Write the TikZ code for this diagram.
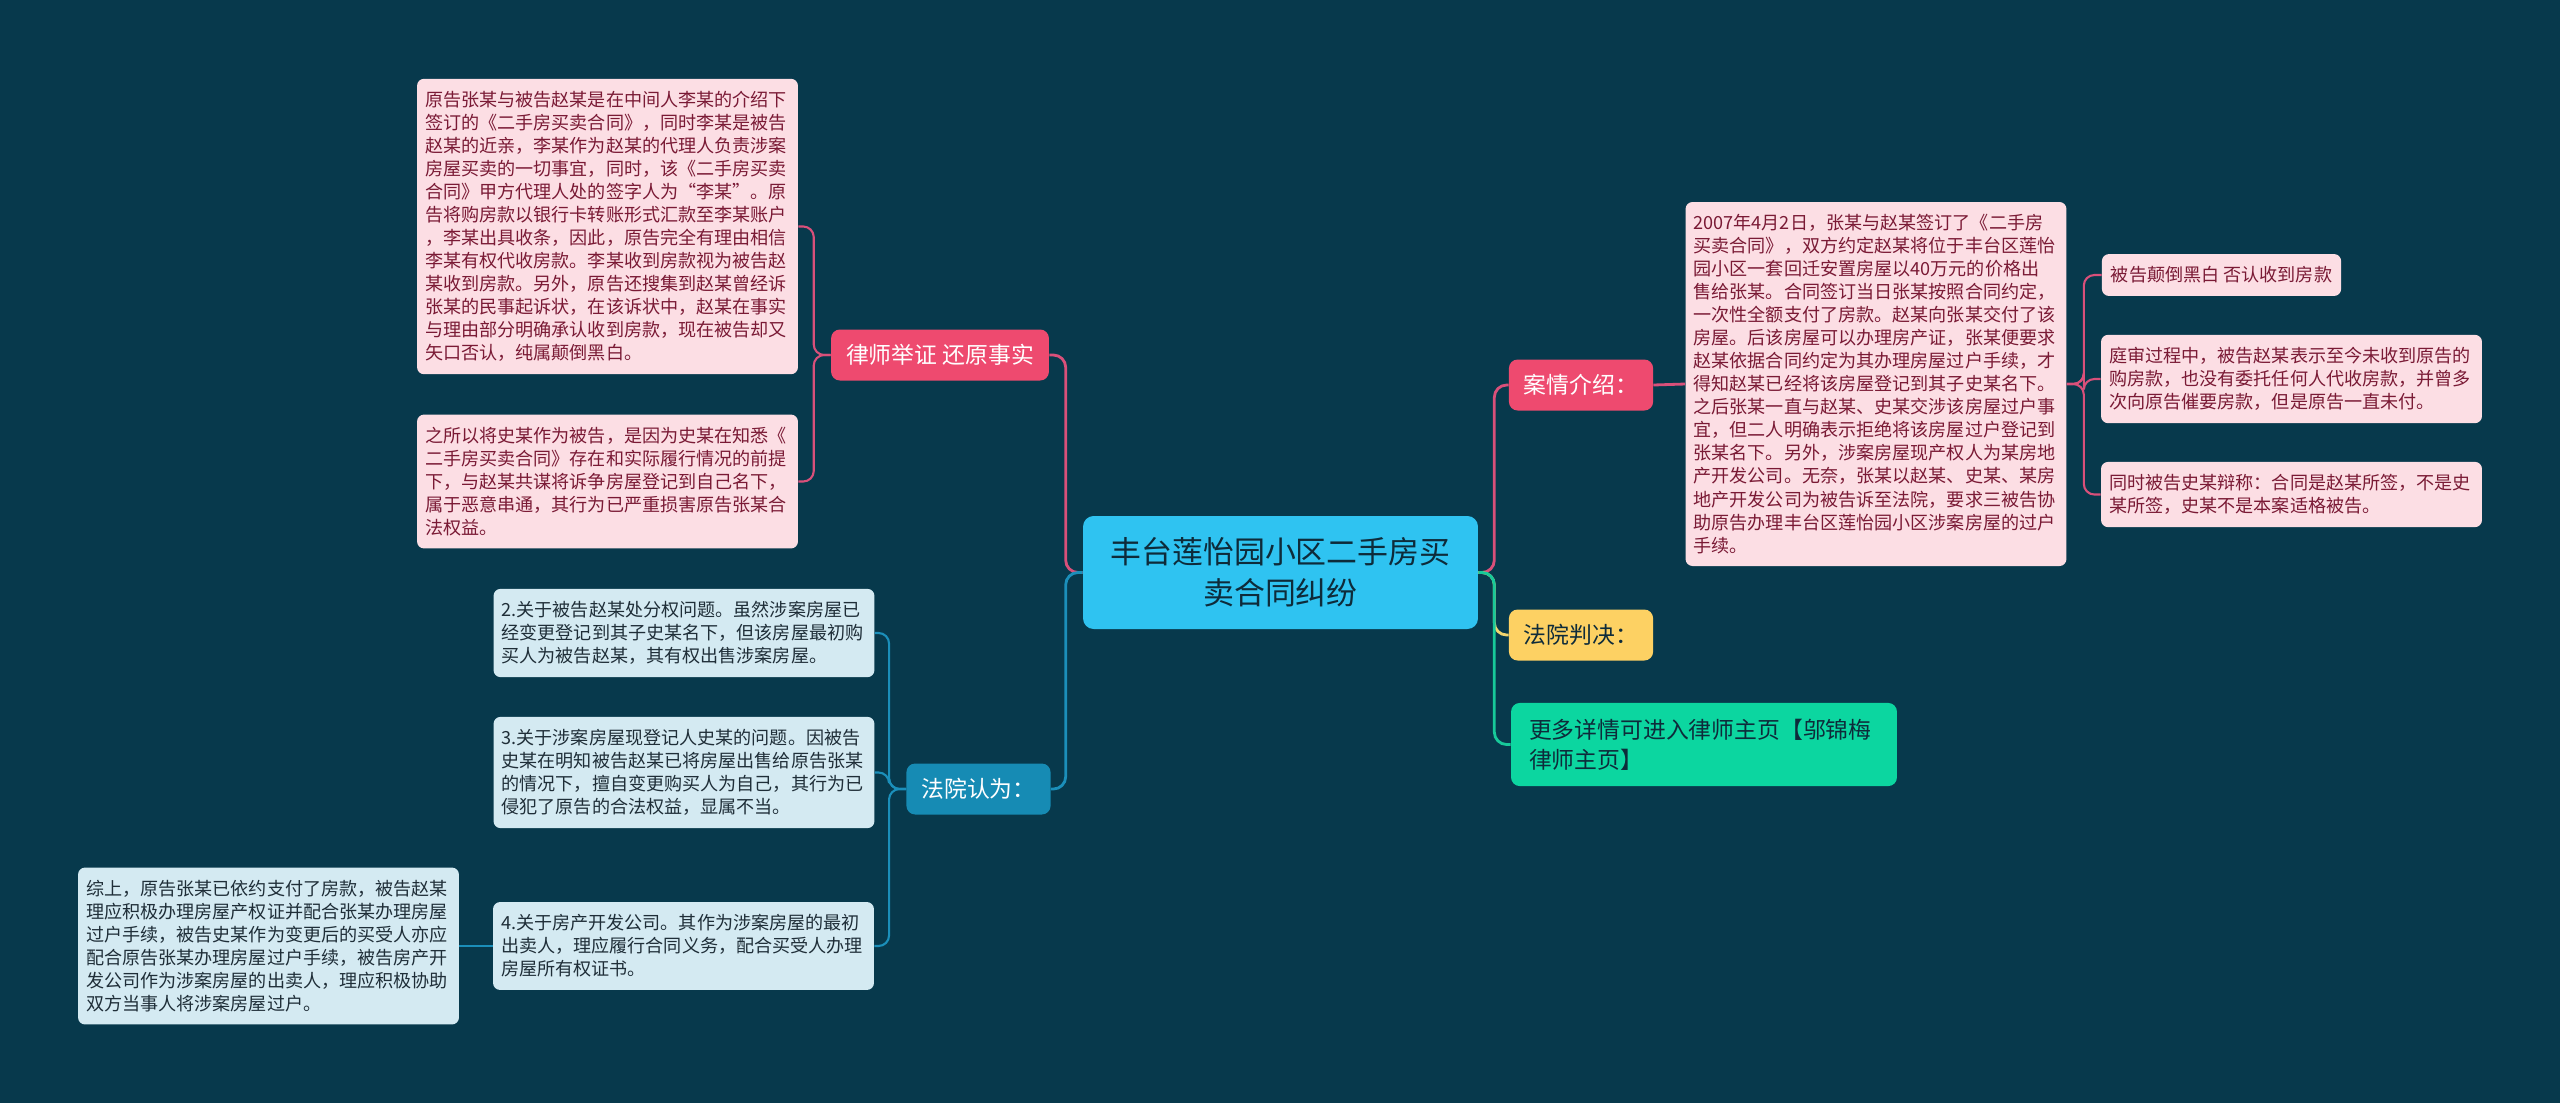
\documentclass[tikz,border=0pt]{standalone}
\usepackage{fontspec}
\setmainfont{Noto Sans CJK SC}
\usepackage{tikz}

\definecolor{bg}{HTML}{07394C}
\definecolor{rootfill}{HTML}{2FC3F1}
\definecolor{roottext}{HTML}{0E2B3A}
\definecolor{pinkfill}{HTML}{EE4A6F}
\definecolor{pinkline}{HTML}{D9507A}
\definecolor{pinkleaf}{HTML}{FCDEE4}
\definecolor{pinktext}{HTML}{7A1A35}
\definecolor{bluefill}{HTML}{168BB4}
\definecolor{blueline}{HTML}{1B8FBA}
\definecolor{blueleaf}{HTML}{D4EAF2}
\definecolor{bluetext}{HTML}{1F2E38}
\definecolor{yelfill}{HTML}{FDD163}
\definecolor{yelline}{HTML}{F2D56E}
\definecolor{greenfill}{HTML}{0CD6A0}
\definecolor{greenline}{HTML}{17C99A}

\begin{document}
\begin{tikzpicture}[x=0.02cm,y=-0.02cm,
  leaf/.style={rounded corners=4pt,align=left,inner xsep=0.16cm,inner ysep=0.25cm,font=\fontsize{10.3pt}{13.1pt}\selectfont},
  pleaf/.style={leaf,fill=pinkleaf,text=pinktext},
  bleaf/.style={leaf,fill=blueleaf,text=bluetext},
  branch/.style={rounded corners=5pt,inner xsep=0.3cm,minimum height=1.02cm,font=\fontsize{13pt}{17pt}\selectfont},
  pline/.style={draw=pinkline,line width=1.6pt,rounded corners=7pt},
  bline/.style={draw=blueline,line width=1.6pt,rounded corners=7pt},
  pthin/.style={draw=pinkline,line width=1.2pt,rounded corners=6pt},
  bthin/.style={draw=blueline,line width=1.2pt,rounded corners=6pt}]

\fill[bg] (0,0) rectangle (2560,1103);

% centre
\node[fill=rootfill,text=roottext,rounded corners=6pt,minimum width=7.9cm,minimum height=2.26cm,align=center,font=\fontsize{17.6pt}{23.4pt}\selectfont] (root) at (1280.5,572.5) {丰台莲怡园小区二手房买\\卖合同纠纷};

% left side
\node[branch,fill=pinkfill,text=white] (proof) at (940,355) {律师举证 还原事实};
\node[pleaf,text width=7.3cm] (ev1) at (607.5,226.5) {原告张某与被告赵某是在中间人李某的介绍下\\签订的《二手房买卖合同》，同时李某是被告\\赵某的近亲，李某作为赵某的代理人负责涉案\\房屋买卖的一切事宜，同时，该《二手房买卖\\合同》甲方代理人处的签字人为“李某”。原\\告将购房款以银行卡转账形式汇款至李某账户\\，李某出具收条，因此，原告完全有理由相信\\李某有权代收房款。李某收到房款视为被告赵\\某收到房款。另外，原告还搜集到赵某曾经诉\\张某的民事起诉状，在该诉状中，赵某在事实\\与理由部分明确承认收到房款，现在被告却又\\矢口否认，纯属颠倒黑白。};
\node[pleaf,text width=7.3cm] (ev2) at (607.5,481.5) {之所以将史某作为被告，是因为史某在知悉《\\二手房买卖合同》存在和实际履行情况的前提\\下，与赵某共谋将诉争房屋登记到自己名下，\\属于恶意串通，其行为已严重损害原告张某合\\法权益。};

\node[branch,fill=bluefill,text=white] (court) at (978.5,789) {法院认为：};
\node[bleaf,text width=7.3cm] (p2) at (684,633) {2.关于被告赵某处分权问题。虽然涉案房屋已\\经变更登记到其子史某名下，但该房屋最初购\\买人为被告赵某，其有权出售涉案房屋。};
\node[bleaf,text width=7.3cm] (p3) at (684,772.5) {3.关于涉案房屋现登记人史某的问题。因被告\\史某在明知被告赵某已将房屋出售给原告张某\\的情况下，擅自变更购买人为自己，其行为已\\侵犯了原告的合法权益，显属不当。};
\node[bleaf,text width=7.3cm] (p4) at (683.5,946) {4.关于房产开发公司。其作为涉案房屋的最初\\出卖人，理应履行合同义务，配合买受人办理\\房屋所有权证书。};
\node[bleaf,text width=7.3cm] (sum) at (268.5,946) {综上，原告张某已依约支付了房款，被告赵某\\理应积极办理房屋产权证并配合张某办理房屋\\过户手续，被告史某作为变更后的买受人亦应\\配合原告张某办理房屋过户手续，被告房产开\\发公司作为涉案房屋的出卖人，理应积极协助\\双方当事人将涉案房屋过户。};

% right side
\node[branch,fill=pinkfill,text=white] (intro) at (1581,385) {案情介绍：};
\node[branch,fill=yelfill,text=roottext] (verdict) at (1581,635) {法院判决：};
\node[branch,fill=greenfill,text=roottext,align=left,text width=7cm,inner xsep=0.36cm,inner ysep=0.32cm] (more) at (1704,744.5) {更多详情可进入律师主页【邬锦梅\\律师主页】};
\node[pleaf,text width=7.3cm] (case) at (1876,384) {2007年4月2日，张某与赵某签订了《二手房\\买卖合同》，双方约定赵某将位于丰台区莲怡\\园小区一套回迁安置房屋以40万元的价格出\\售给张某。合同签订当日张某按照合同约定，\\一次性全额支付了房款。赵某向张某交付了该\\房屋。后该房屋可以办理房产证，张某便要求\\赵某依据合同约定为其办理房屋过户手续，才\\得知赵某已经将该房屋登记到其子史某名下。\\之后张某一直与赵某、史某交涉该房屋过户事\\宜，但二人明确表示拒绝将该房屋过户登记到\\张某名下。另外，涉案房屋现产权人为某房地\\产开发公司。无奈，张某以赵某、史某、某房\\地产开发公司为被告诉至法院，要求三被告协\\助原告办理丰台区莲怡园小区涉案房屋的过户\\手续。};
\node[pleaf,inner xsep=0.18cm] (r1) at (2221.5,275) {被告颠倒黑白 否认收到房款};
\node[pleaf,text width=7.3cm] (r2) at (2291.5,379) {庭审过程中，被告赵某表示至今未收到原告的\\购房款，也没有委托任何人代收房款，并曾多\\次向原告催要房款，但是原告一直未付。};
\node[pleaf,text width=7.3cm] (r3) at (2291.5,494.5) {同时被告史某辩称：合同是赵某所签，不是史\\某所签，史某不是本案适格被告。};

% connectors
\draw[pline] (root.west) -- ++(-17,0) |- (proof.east);
\draw[bline] (root.west) -- ++(-17,0) |- (court.east);
\draw[pthin] (proof.west) -- ++(-17,0) |- (ev1.east);
\draw[pthin] (proof.west) -- ++(-17,0) |- (ev2.east);
\draw[bthin] (court.west) -- ++(-17,0) |- (p2.east);
\draw[bthin] (court.west) -- ++(-17,0) |- (p3.east);
\draw[bthin] (court.west) -- ++(-17,0) |- (p4.east);
\draw[bthin] (p4.west) -- (sum.east);

\draw[pline] (root.east) -- ++(16,0) |- (intro.west);
\draw[draw=yelline,line width=1.6pt,rounded corners=7pt] (root.east) -- ++(16,0) |- (verdict.west);
\draw[draw=greenline,line width=1.6pt,rounded corners=7pt] (root.east) -- ++(16,0) |- (more.west);
\draw[pline] (intro.east) -- (case.west);
\draw[pthin] (case.east) -- ++(17,0) |- (r1.west);
\draw[pthin] (case.east) -- ++(17,0) |- (r2.west);
\draw[pthin] (case.east) -- ++(17,0) |- (r3.west);

\end{tikzpicture}
\end{document}
